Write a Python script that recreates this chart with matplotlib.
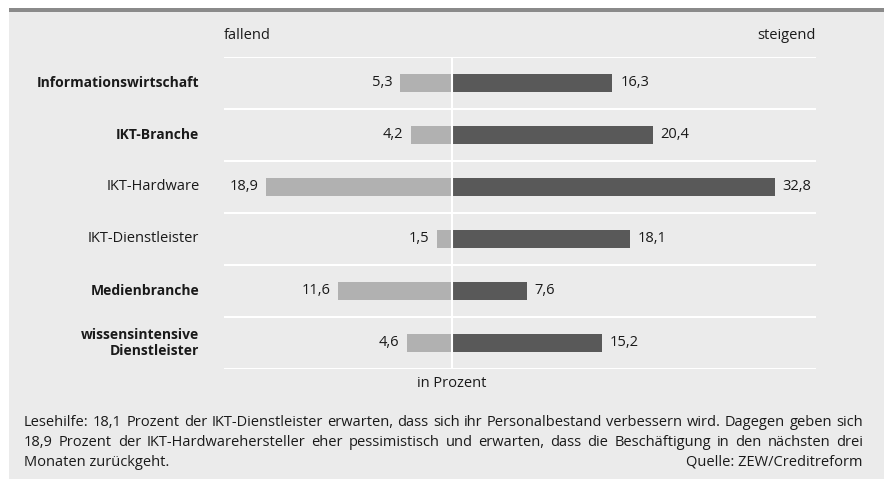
import matplotlib.pyplot as plt
from matplotlib.patches import Rectangle

plt.rcParams['font.family'] = ['Open Sans', 'DejaVu Sans']

# --- Daten ---
branchen = ["Informationswirtschaft", "IKT-Branche", "IKT-Hardware",
            "IKT-Dienstleister", "Medienbranche", "wissensintensive\nDienstleister"]
fett = [True, True, False, False, True, True]
fallend = [5.3, 4.2, 18.9, 1.5, 11.6, 4.6]
steigend = [16.3, 20.4, 32.8, 18.1, 7.6, 15.2]

fussnote = [
    "Lesehilfe: 18,1 Prozent der IKT-Dienstleister erwarten, dass sich ihr Personalbestand verbessern wird. Dagegen geben sich",
    "18,9 Prozent der IKT-Hardwarehersteller eher pessimistisch und erwarten, dass die Beschäftigung in den nächsten drei",
    "Monaten zurückgeht.",
]
quelle = "Quelle: ZEW/Creditreform"

W, H = 884, 479
BG = "#ebebeb"
HELL = "#b1b1b1"
DUNKEL = "#595959"
TXT = "#1a1a1a"

fig = plt.figure(figsize=(W / 100, H / 100), dpi=100, facecolor="white")

# grauer Kasten mit dunklerer Linie oben
fig.patches.append(Rectangle((9 / W, 0), 1 - 9 / W, 1 - 11 / H, transform=fig.transFigure,
                             facecolor=BG, edgecolor="none", zorder=-10))
fig.patches.append(Rectangle((9 / W, 1 - 12 / H), 1 - 9 / W, 4 / H, transform=fig.transFigure,
                             facecolor="#8a8a8a", edgecolor="none", zorder=-9))

x0, x1 = 224, 816
y0, y1 = 57, 369
ax = fig.add_axes([x0 / W, 1 - y1 / H, (x1 - x0) / W, (y1 - y0) / H])
ax.patch.set_alpha(0)

n = len(branchen)
pos = list(range(n))
ax.barh(pos, [-v for v in fallend], height=0.33, color=HELL, zorder=2)
ax.barh(pos, steigend, height=0.33, color=DUNKEL, zorder=2)

ax.set_xlim(-23.2, 37.0)
ax.set_ylim(n - 0.5, -0.5)

# weiße Trennlinien und Nulllinie
for i in range(n + 1):
    ax.axhline(i - 0.5, color="white", lw=1.5, zorder=1)
ax.axvline(0, color="white", lw=1.5, zorder=3)

fs = 10.5
for i in range(n):
    ax.text(-fallend[i] - 0.8, i, f"{fallend[i]:.1f}".replace(".", ","),
            ha="right", va="center", fontsize=fs, color=TXT)
    ax.text(steigend[i] + 0.8, i, f"{steigend[i]:.1f}".replace(".", ","),
            ha="left", va="center", fontsize=fs, color=TXT)
    ax.text(-23.2 - 2.5, i, branchen[i], ha="right", va="center",
            fontsize=10 if fett[i] else fs, color=TXT,
            fontweight="bold" if fett[i] else "normal", linespacing=1.15)

ax.text(-23.2, -0.5 - 0.42, "fallend", ha="left", va="center", fontsize=fs, color=TXT)
ax.text(37.0, -0.5 - 0.42, "steigend", ha="right", va="center", fontsize=fs, color=TXT)
ax.text(0, n - 0.5 + 0.28, "in Prozent", ha="center", va="center", fontsize=fs, color=TXT)

for s in ax.spines.values():
    s.set_visible(False)
ax.set_xticks([])
ax.set_yticks([])

# Fußnote im Blocksatz
renderer = fig.canvas.get_renderer()
links, rechts = 24 / W, 863 / W
zeilen_y = [422, 442, 462]


def blocksatz(zeile, y):
    woerter = zeile.split(" ")
    texte = [fig.text(0, y, w, fontsize=fs, color=TXT, va="center") for w in woerter]
    breiten = [t.get_window_extent(renderer).width / W for t in texte]
    luecke = (rechts - links - sum(breiten)) / (len(woerter) - 1)
    x = links
    for t, b in zip(texte, breiten):
        t.set_x(x)
        x += b + luecke


for zeile, y in zip(fussnote[:2], zeilen_y[:2]):
    blocksatz(zeile, 1 - y / H)
fig.text(links, 1 - zeilen_y[2] / H, fussnote[2], fontsize=fs, color=TXT, va="center")
fig.text(rechts, 1 - zeilen_y[2] / H, quelle, fontsize=fs, color=TXT, va="center", ha="right")

fig.savefig("out.png", dpi=100, facecolor="white")
